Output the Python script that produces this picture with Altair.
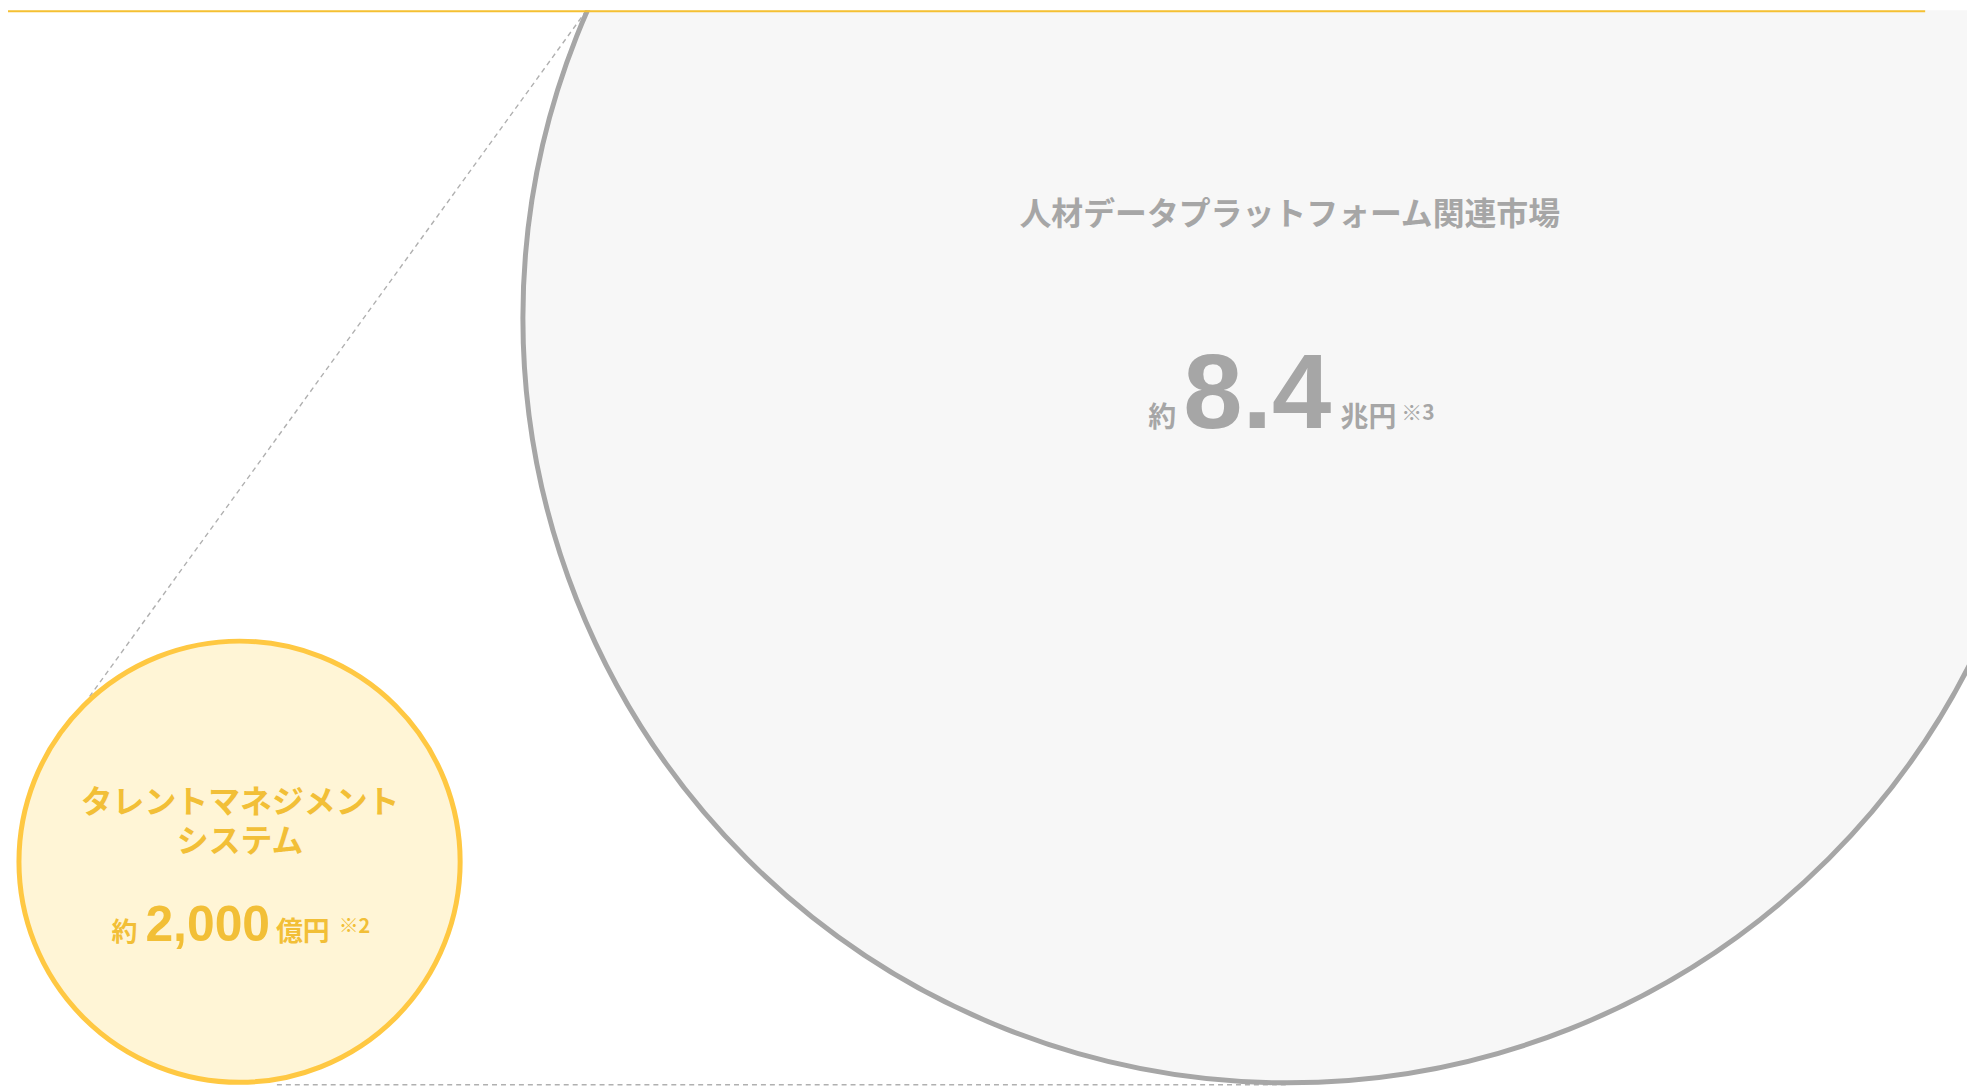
import altair as alt
import pandas as pd

# ---- data ----
markets = ["人材データプラットフォーム関連市場", "タレントマネジメントシステム"]
market_labels = ["人材データプラットフォーム関連市場", "タレントマネジメント\nシステム"]
prefixes = ["約", "約"]
amounts = ["8.4", "2,000"]
units = ["兆円", "億円"]
notes = ["※3", "※2"]

# ---- layout (page pixel coordinates) ----
W, H = 1967, 1081
X0, Y0 = 8, 8
GRAY_TXT = "#a6a6a6"
YEL_TXT = "#f2bf37"

circles = [
    dict(x=1293, y=317, r=768, fill="#f7f7f7", stroke="#a6a6a6"),
    dict(x=240.5, y=863, r=221.5, fill="#fff5d6", stroke="#ffc842"),
]

xs = alt.Scale(domain=[X0, X0 + W], nice=False, zero=False)
ys = alt.Scale(domain=[Y0, Y0 + H], nice=False, zero=False, reverse=True)


def X(f="x"):
    return alt.X(f"{f}:Q", scale=xs, axis=None)


def Y(f="y"):
    return alt.Y(f"{f}:Q", scale=ys, axis=None)


layers = []

# dashed connector lines
conn = pd.DataFrame({"x": [589, 278], "y": [8, 1087], "x2": [90, 1293], "y2": [697, 1087]})
layers.append(
    alt.Chart(conn).mark_rule(color="#b0b0b0", strokeWidth=1.4, strokeDash=[5, 4], clip=True).encode(
        x=X(), y=Y(), x2="x2:Q", y2="y2:Q"
    )
)

# circles
for c in circles:
    df = pd.DataFrame({"x": [c["x"]], "y": [c["y"]]})
    layers.append(
        alt.Chart(df).mark_point(
            shape="circle", filled=True, fill=c["fill"], stroke=c["stroke"], strokeWidth=5,
            fillOpacity=1, strokeOpacity=1, opacity=1, size=(2 * c["r"]) ** 2, clip=True
        ).encode(x=X(), y=Y())
    )

# top yellow rule
top = pd.DataFrame({"x": [X0], "x2": [1933], "y": [9]})
layers.append(
    alt.Chart(top).mark_rule(color="#f5c032", strokeWidth=2).encode(x=X(), x2="x2:Q", y=Y())
)

CJK = "Noto Sans CJK JP"
NUM = "Liberation Sans"


def text(df, color, size, font, align="left", **kw):
    return alt.Chart(df).mark_text(
        color=color, fontSize=size, font=font, fontWeight="bold", align=align, baseline="alphabetic", **kw
    ).encode(x=X(), y=Y(), text="t:N")


# large circle texts
layers.append(text(pd.DataFrame({"t": [market_labels[0]], "x": [1295], "y": [224]}), GRAY_TXT, 32, CJK, "center"))
layers.append(text(pd.DataFrame({"t": [prefixes[0]], "x": [1153], "y": [427]}), GRAY_TXT, 28, CJK))
layers.append(text(pd.DataFrame({"t": [amounts[0]], "x": [1188], "y": [428]}), GRAY_TXT, 107, NUM))
layers.append(text(pd.DataFrame({"t": [units[0]], "x": [1346], "y": [427]}), GRAY_TXT, 28, CJK))
layers.append(text(pd.DataFrame({"t": [notes[0]], "x": [1407], "y": [419]}), GRAY_TXT, 21, CJK))

# small circle texts
layers.append(text(pd.DataFrame({"t": [market_labels[1]], "x": [241], "y": [814]}), YEL_TXT, 32, CJK, "center",
                   lineBreak="\n", lineHeight=39))
layers.append(text(pd.DataFrame({"t": [prefixes[1]], "x": [112], "y": [943]}), YEL_TXT, 26, CJK))
layers.append(text(pd.DataFrame({"t": [amounts[1]], "x": [146], "y": [943]}), YEL_TXT, 50, NUM))
layers.append(text(pd.DataFrame({"t": [units[1]], "x": [277], "y": [943]}), YEL_TXT, 27, CJK))
layers.append(text(pd.DataFrame({"t": [notes[1]], "x": [340], "y": [935]}), YEL_TXT, 20, CJK))

chart = (
    alt.layer(*layers)
    .properties(width=W, height=H, padding=0, autosize=alt.AutoSizeParams(type="none"), background="white")
    .configure_view(stroke=None)
)

chart.save("out.html", embed_options={"renderer": "svg", "actions": False})
